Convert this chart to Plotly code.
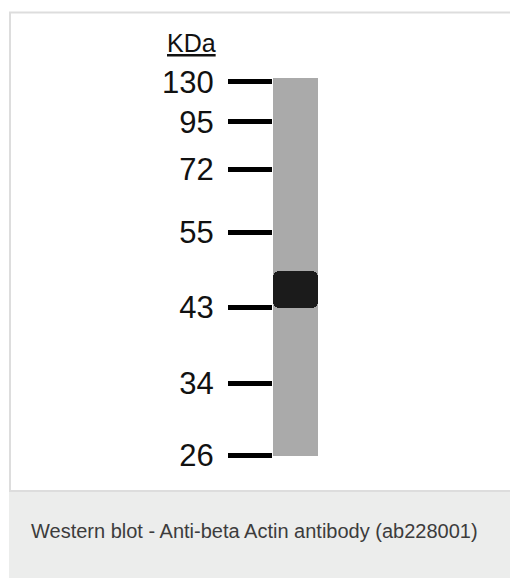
import plotly.graph_objects as go

# ---- data (migration distance from top of lane, px-equivalent units) ----
marker_labels = ["130", "95", "72", "55", "43", "34", "26"]
marker_migration = [3.8, 43.7, 91.5, 154.2, 229.2, 305.3, 377.0]
lane_names = ["Lane 1"]
lane_start = [0]
lane_end = [378]
band_start = [193]
band_end = [230]

W, H = 510, 578
FONT = "Liberation Sans, Arial, sans-serif"

fig = go.Figure()

# lane (gel strip)
fig.add_trace(go.Bar(
    x=lane_names, base=lane_start,
    y=[e - s for s, e in zip(lane_start, lane_end)],
    marker=dict(color="#aaaaaa", line=dict(width=0)),
    width=1.0, hoverinfo="skip", showlegend=False,
))
# band (drawn from bottom edge upward so the rounded end is the top)
fig.add_trace(go.Bar(
    x=lane_names, base=band_end,
    y=[s - e for s, e in zip(band_start, band_end)],
    marker=dict(color="#1b1b1b", line=dict(width=0), cornerradius=6),
    width=1.0, hoverinfo="skip", showlegend=False,
))

px = lambda v: v / W
py = lambda v: 1 - v / H

fig.update_layout(
    template="none",
    width=W, height=H,
    margin=dict(l=0, r=0, t=0, b=0),
    paper_bgcolor="white",
    plot_bgcolor="rgba(0,0,0,0)",
    barmode="overlay",
    bargap=0,
    showlegend=False,
    xaxis=dict(
        domain=[px(273), px(318)],
        range=[-0.5, 0.5],
        showticklabels=False, showgrid=False, zeroline=False, showline=False,
        ticks="", automargin=False, fixedrange=True,
    ),
    yaxis=dict(
        domain=[py(456), py(78)],
        range=[lane_end[0], lane_start[0]],
        tickmode="array",
        tickvals=marker_migration,
        ticktext=marker_labels,
        ticks="outside", ticklen=44, tickwidth=5, tickcolor="#000000",
        ticklabelstandoff=8,
        tickfont=dict(family=FONT, size=31, color="#111111"),
        showgrid=False, zeroline=False, showline=False,
        automargin=False, fixedrange=True,
    ),
    shapes=[
        # caption background
        dict(type="rect", xref="paper", yref="paper",
             x0=px(9), x1=1.02, y0=-0.02, y1=py(491),
             fillcolor="#ecedec", line=dict(width=0), layer="below"),
        # panel frame
        dict(type="rect", xref="paper", yref="paper",
             x0=px(10), x1=1.02, y0=py(491), y1=py(12.5),
             fillcolor="rgba(0,0,0,0)", line=dict(color="#dddddd", width=2),
             layer="below"),
    ],
    annotations=[
        dict(text="<u>KDa</u>", xref="paper", yref="paper",
             x=px(191), y=py(43), xanchor="center", yanchor="middle",
             showarrow=False, font=dict(family=FONT, size=25, color="#111111")),
        dict(text="Western blot - Anti-beta Actin antibody (ab228001)",
             xref="paper", yref="paper", x=px(29), y=py(531),
             xanchor="left", yanchor="middle", showarrow=False,
             font=dict(family=FONT, size=20, color="#3c3c3c")),
    ],
)

fig.write_html(
    "out.html",
    config={"displayModeBar": False},
    post_script="document.body.style.margin='0';document.body.style.overflow='hidden';",
)
